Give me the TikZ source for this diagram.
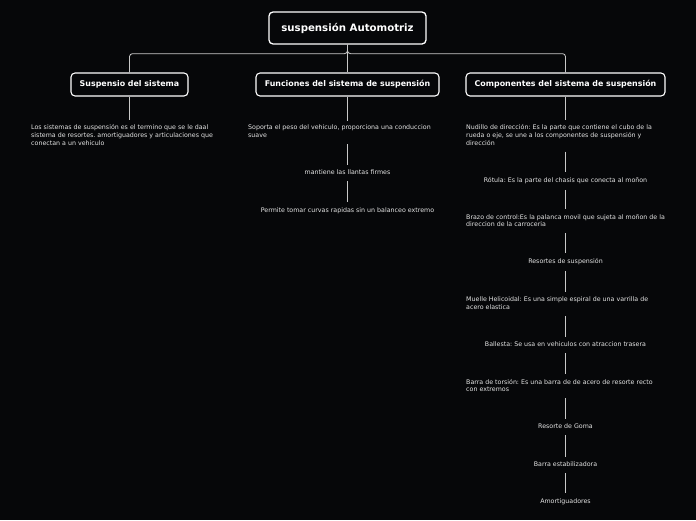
\documentclass[tikz,border=0pt]{standalone}
\usepackage{fontspec}
\setmainfont{DejaVu Sans}
\frenchspacing
\definecolor{bg}{HTML}{060709}
\definecolor{lin}{HTML}{C8C8C8}
\definecolor{leaftxt}{HTML}{E4E4E4}
\begin{document}
\begin{tikzpicture}[x=1pt,y=-1pt,
  rootbox/.style={draw=white,line width=1.3pt,rounded corners=4pt,fill=bg,text=white,
    font=\fontsize{10.2}{12}\selectfont\bfseries,minimum width=157,minimum height=32,inner sep=0},
  childbox/.style={draw=white,line width=1.1pt,rounded corners=4pt,fill=bg,text=white,
    font=\fontsize{7.9}{9}\selectfont\bfseries,minimum height=23,inner sep=0},
  leaf/.style={text=leaftxt,font=\fontsize{6.3}{7.8}\selectfont,inner sep=0},
  leafl/.style={leaf,align=left,anchor=west},
  leafc/.style={leaf,align=center},
  conn/.style={draw=lin,line width=0.6pt},
  tree/.style={draw=lin,line width=0.8pt,rounded corners=3pt},
  firstconn/.style={conn,shorten >=4},
  leafconn/.style={conn,shorten <=6,shorten >=5}
]
\fill[bg] (0,0) rectangle (696,520);
\useasboundingbox (0,0) rectangle (696,520);

\node[rootbox] (root) at (347.5,28) {suspensión Automotriz};
\node[childbox,minimum width=117] (c1) at (129.5,84.5) {Suspensio del sistema};
\node[childbox,minimum width=183] (c2) at (347.5,84.5) {Funciones del sistema de suspensión};
\node[childbox,minimum width=199] (c3) at (565.5,84.5) {Componentes del sistema de suspensión};

\draw[tree] (root.south) -- ++(0,9) -| (c1.north);
\draw[tree] (root.south) -- (c2.north);
\draw[tree] (root.south) -- ++(0,9) -| (c3.north);

% column 1
\node[leafl] (l1) at (31,135) {Los sistemas de suspensión es el termino que se le daal\\sistema de resortes. amortiguadores y articulaciones que\\conectan a un vehiculo};
\draw[firstconn] (c1.south) -- (c1.south |- l1.north);

% column 2
\node[leafl] (f1) at (248,131.5) {Soporta el peso del vehiculo, proporciona una conduccion\\suave};
\node[leafc] (f2) at (347.5,172.5) {mantiene las llantas firmes};
\node[leafc] (f3) at (347.5,210.5) {Permite tomar curvas rapidas sin un balanceo extremo};
\draw[firstconn] (c2.south) -- (c2.south |- f1.north);
\draw[leafconn] (f1.south -| f2.north) -- (f2.north);
\draw[leafconn] (f2.south) -- (f3.north);

% column 3
\node[leafl] (k1) at (466,135) {Nudillo de dirección: Es la parte que contiene el cubo de la\\rueda o eje, se une a los componentes de suspensión y\\dirección};
\node[leafc] (k2) at (565.5,180.5) {Rótula: Es la parte del chasis que conecta al moñon};
\node[leafl] (k3) at (466,220.5) {Brazo de control:Es la palanca movil que sujeta al moñon de la\\direccion de la carroceria};
\node[leafc] (k4) at (565.5,261.5) {Resortes de suspensión};
\node[leafl] (k5) at (466,303.5) {Muelle Helicoidal: Es una simple espiral de una varrilla de\\acero elastica};
\node[leafc] (k6) at (565.5,344.5) {Ballesta: Se usa en vehiculos con atraccion trasera};
\node[leafl] (k7) at (466,385.5) {Barra de torsión: Es una barra de de acero de resorte recto\\con extremos};
\node[leafc] (k8) at (565.5,426.5) {Resorte de Goma};
\node[leafc] (k9) at (565.5,464.5) {Barra estabilizadora};
\node[leafc] (k10) at (565.5,501.5) {Amortiguadores};
\draw[firstconn] (c3.south) -- (c3.south |- k1.north);
\draw[leafconn] (k1.south -| k2.north) -- (k2.north);
\draw[leafconn] (k2.south) -- (k2.south |- k3.north);
\draw[leafconn] (k3.south -| k4.north) -- (k4.north);
\draw[leafconn] (k4.south) -- (k4.south |- k5.north);
\draw[leafconn] (k5.south -| k6.north) -- (k6.north);
\draw[leafconn] (k6.south) -- (k6.south |- k7.north);
\draw[leafconn] (k7.south -| k8.north) -- (k8.north);
\draw[leafconn] (k8.south) -- (k9.north);
\draw[leafconn] (k9.south) -- (k10.north);
\end{tikzpicture}
\end{document}
